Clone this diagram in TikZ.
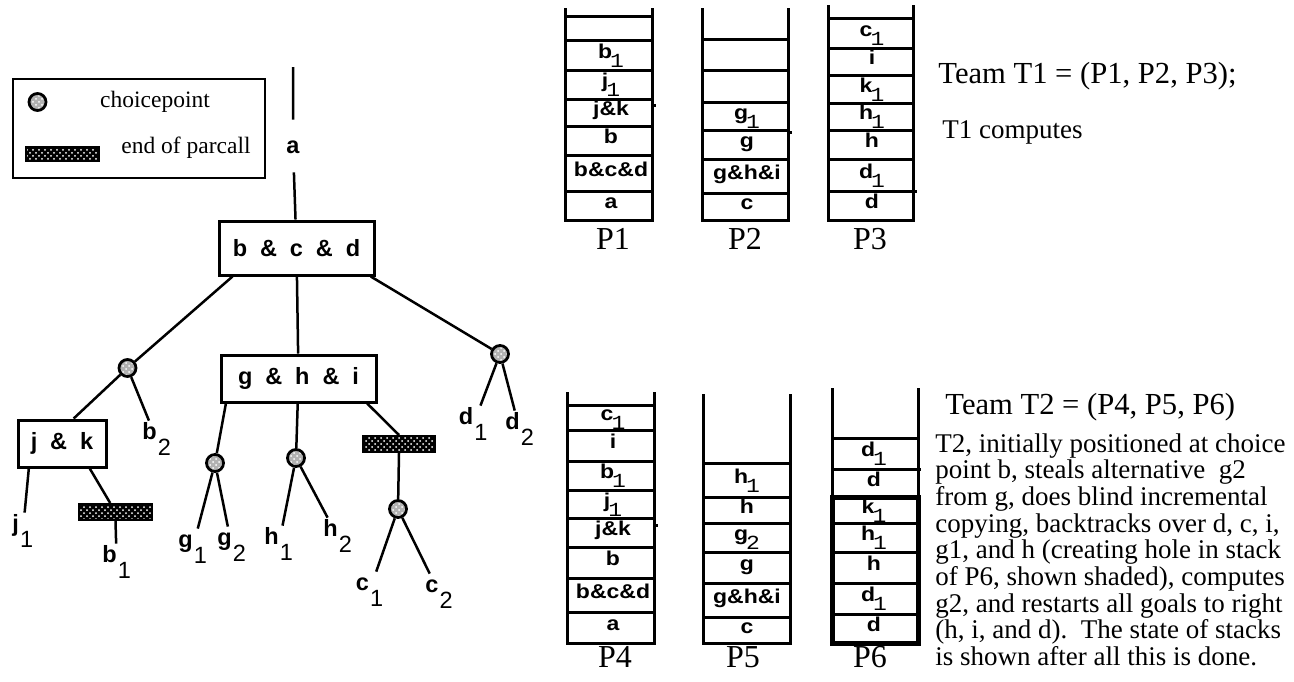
\documentclass[tikz,border=0pt]{standalone}
\usepackage{graphicx}
\usepackage{fontspec}
\setmainfont{Liberation Serif}
\setsansfont{Liberation Sans}
\setmonofont{Liberation Mono}
\usetikzlibrary{patterns}

\newcommand{\andsep}{\hspace{0.55em}}
\newcommand{\gl}[2]{#1\kern0.6pt\raisebox{-0.7em}{\mdseries #2}}
\newcommand{\sgl}[2]{#1\kern-0.8pt\raisebox{-0.45em}{\ttfamily\mdseries #2}}
\newcommand{\stk}[1]{\scalebox{1.15}[1]{#1}}

\begin{document}
\begin{tikzpicture}[
        x=0.5pt, y=-0.5pt,
        treeline/.style={line width=1.25pt},
        goalbox/.style={draw, line width=1.5pt, inner sep=0pt,
            font=\sffamily\bfseries\fontsize{11.75}{14}\selectfont},
        leaf/.style={inner sep=1.5pt, text height=0.75em,
            font=\sffamily\bfseries\fontsize{11.75}{14}\selectfont},
        choice/.style={circle, draw, line width=1.4pt, minimum size=8.5pt,
            inner sep=0pt, preaction={fill=black!30}, pattern=crosshatch dots,
            pattern color=white},
        endpar/.style={draw, line width=1pt, inner sep=0pt,
            preaction={fill=black}, pattern=crosshatch dots, pattern color=white},
        stackline/.style={line width=1.5pt},
        cell/.style={inner sep=0pt, yshift=1pt, text height=0.72em, text depth=0.22em,
            font=\sffamily\bfseries\fontsize{10}{12}\selectfont},
        proc/.style={font=\fontsize{16}{18}\selectfont},
        legendtext/.style={anchor=base, font=\fontsize{11.75}{14}\selectfont}
    ]
    \useasboundingbox (0,0) rectangle (1294,681);

    % legend
    \node[draw, line width=1pt, minimum width=126pt, minimum height=49.5pt] (legend) at (139,128.5) {};
    \node[choice] (keycp) at (37.5,102) {};
    \node[legendtext] (keycptext) at (155,107) {choicepoint};
    \node[endpar, minimum width=36.5pt, minimum height=7pt] (keyend) at (62.5,154) {};
    \node[legendtext] (keyendtext) at (186,153) {end of parcall};

    % and-or tree
    \coordinate (root) at (293,67);
    \node[leaf, minimum height=26pt] (a) at (293,146) {a};
    \node[goalbox, minimum width=77.5pt, minimum height=27pt] (bcd) at (296.5,248)
        {b\andsep\&\andsep c\andsep\&\andsep d};
    \node[goalbox, minimum width=77.5pt, minimum height=23.5pt] (ghi) at (298.5,378.5)
        {g\andsep\&\andsep h\andsep\&\andsep i};
    \node[goalbox, minimum width=44pt, minimum height=23.5pt] (jk) at (62,443.5)
        {j\andsep\&\andsep k};

    \node[choice] (cpb) at (127.5,368) {};
    \node[choice] (cpd) at (500,354) {};
    \node[choice] (cpg) at (215,463) {};
    \node[choice] (cph) at (296,458) {};
    \node[choice] (cpc) at (398,509) {};
    \node[endpar, minimum width=36.5pt, minimum height=8pt] (endb) at (115.5,512) {};
    \node[endpar, minimum width=36pt, minimum height=8pt] (endc) at (399,444) {};

    \node[leaf, anchor=base west] (jone) at (9,531) {\gl{j}{1}};
    \node[leaf, anchor=base west] (bone) at (99,562) {\gl{b}{1}};
    \node[leaf, anchor=base west] (btwo) at (139,439) {\gl{b}{2}};
    \node[leaf, anchor=base west] (gone) at (175,547) {\gl{g}{1}};
    \node[leaf, anchor=base west] (gtwo) at (214,545) {\gl{g}{2}};
    \node[leaf, anchor=base west] (hone) at (261,544) {\gl{h}{1}};
    \node[leaf, anchor=base west] (htwo) at (320,536) {\gl{h}{2}};
    \node[leaf, anchor=base west] (cone) at (352.5,590) {\gl{c}{1}};
    \node[leaf, anchor=base west] (ctwo) at (422,592) {\gl{c}{2}};
    \node[leaf, anchor=base west] (done) at (455.5,424) {\gl{d}{1}};
    \node[leaf, anchor=base west] (dtwo) at (502,429) {\gl{d}{2}};

    \draw[treeline] (root) -- (a) -- (bcd);
    \draw[treeline] (bcd.204) -- (cpb);
    \draw[treeline] (bcd) -- (ghi);
    \draw[treeline] (bcd.-21) -- (cpd);
    \draw[treeline] (cpb) -- (jk.65);
    \draw[treeline] (cpb) -- (btwo);
    \draw[treeline] (jk.217) -- (jone);
    \draw[treeline] (jk.-42) -- (endb);
    \draw[treeline] (endb.south) -- (bone);
    \draw[treeline] (ghi.199) -- (cpg);
    \draw[treeline] (ghi) -- (cph);
    \draw[treeline] (ghi.-20) -- (endc.north);
    \draw[treeline] (endc.south) -- (cpc);
    \draw[treeline] (cpg) -- (gone);
    \draw[treeline] (cpg) -- (gtwo);
    \draw[treeline] (cph) -- (hone);
    \draw[treeline] (cph) -- (htwo);
    \draw[treeline] (cpc) -- (cone);
    \draw[treeline] (cpc) -- (ctwo);
    \draw[treeline] (cpd) -- (done);
    \draw[treeline] (cpd) -- (dtwo);

    % stacks of team T1
    \draw[stackline] (565,8) |- (652,220) -- (652,8);
    \foreach \y in {16,40,70,99,126,155,191}
        \draw[stackline] (565,\y) -- (652,\y);
    \draw[stackline] (652,105) -- (656,105);
    \foreach \y/\t [count=\i] in {55/\sgl{b}{1}, 84.5/\sgl{j}{1}, 112.5/j\&k,
            140.5/b, 173/b\&c\&d, 205.5/a}
        \node[cell] (pone-\i) at (611,\y) {\stk{\t}};
    \node[proc] (Pone) at (613,239) {P1};

    \draw[stackline] (702,8) |- (788,220) -- (788,8);
    \foreach \y in {39,70,102,130,159,193}
        \draw[stackline] (702,\y) -- (788,\y);
    \draw[stackline] (788,132) -- (792,132);
    \foreach \y/\t [count=\i] in {116/\sgl{g}{1}, 144.5/g, 176/g\&h\&i, 206.5/c}
        \node[cell] (ptwo-\i) at (747,\y) {\stk{\t}};
    \node[proc] (Ptwo) at (745,239) {P2};

    \draw[stackline] (828,5) |- (913,220) -- (913,5);
    \foreach \y in {18,48,75,103,130,159}
        \draw[stackline] (828,\y) -- (913,\y);
    \draw[stackline] (828,191) -- (917,191);
    \foreach \y/\t [count=\i] in {33/\sgl{c}{1}, 61.5/i, 89/\sgl{k}{1}, 116.5/\sgl{h}{1},
            144.5/h, 175/\sgl{d}{1}, 205.5/d}
        \node[cell] (pthree-\i) at (872,\y) {\stk{\t}};
    \node[proc] (Pthree) at (870,239) {P3};

    % stacks of team T2
    \draw[stackline] (567,392) |- (654,643) -- (654,392);
    \foreach \y in {405,430,461,490,518,547,578,612}
        \draw[stackline] (567,\y) -- (654,\y);
    \draw[stackline] (654,525) -- (658,525);
    \foreach \y/\t [count=\i] in {417.5/\sgl{c}{1}, 445.5/i, 475.5/\sgl{b}{1}, 504/\sgl{j}{1},
            532.5/j\&k, 562.5/b, 595/b\&c\&d, 627.5/a}
        \node[cell] (pfour-\i) at (613,\y) {\stk{\t}};
    \node[proc] (Pfour) at (615,657) {P4};

    \draw[stackline] (703,394) |- (790,643) -- (790,394);
    \foreach \y in {463,497,523,552,583,617}
        \draw[stackline] (703,\y) -- (790,\y);
    \foreach \y/\t [count=\i] in {480/\sgl{h}{1}, 510/h, 537.5/\sgl{g}{2}, 567.5/g,
            600/g\&h\&i, 630/c}
        \node[cell] (pfive-\i) at (747,\y) {\stk{\t}};
    \node[proc] (Pfive) at (743,657) {P5};

    \draw[stackline] (832,388) |- (918,643) -- (918,388);
    \foreach \y in {438,523,552,583,614}
        \draw[stackline] (832,\y) -- (918,\y);
    \draw[stackline] (832,469) -- (921,469);
    \draw[line width=2.5pt] (832,497) rectangle (918,643);
    \foreach \y/\t [count=\i] in {453.5/\sgl{d}{1}, 483/d, 510/\sgl{k}{1}, 537.5/\sgl{h}{1},
            567.5/h, 598.5/\sgl{d}{1}, 628.5/d}
        \node[cell] (psix-\i) at (874,\y) {\stk{\t}};
    \node[proc] (Psix) at (870,657) {P6};

    % notes
    \node[anchor=base west, inner sep=0pt, font=\fontsize{15.3}{18}\selectfont] (teamone)
        at (938,83) {Team T1 = (P1, P2, P3);};
    \node[anchor=base west, inner sep=0pt, font=\fontsize{13.5}{16}\selectfont] (noteone)
        at (942,138) {T1 computes};
    \node[anchor=base west, inner sep=0pt, font=\fontsize{15.3}{18}\selectfont] (teamtwo)
        at (945,414) {Team T2 = (P4, P5, P6)};
    \node[anchor=base west, inner sep=0pt, align=left,
        font={\fontsize{13.5}{13.35}\selectfont\lineskiplimit=-10pt}] (notetwo) at (935,665.6)
        {T2, initially positioned at choice\\
         point b, steals alternative\ \ g2\\
         from g, does blind incremental\\
         copying, backtracks over d, c, i,\\
         g1, and h (creating hole in stack\\
         of P6, shown shaded), computes\\
         g2, and restarts all goals to right\\
         (h, i, and d).\ \ The state of stacks\\
         is shown after all this is done.};
\end{tikzpicture}
\end{document}
